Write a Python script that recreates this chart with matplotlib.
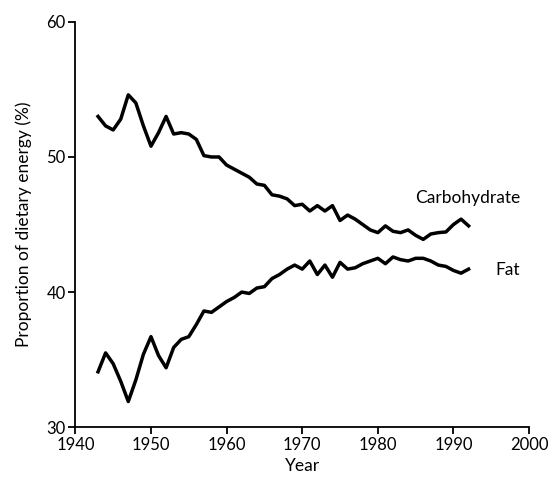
import matplotlib
matplotlib.use("Agg")
import matplotlib.pyplot as plt

years = list(range(1943, 1993))
carbohydrate = [53.0, 52.3, 52.0, 52.8, 54.6, 54.0, 52.3, 50.8, 51.8, 53.0,
                51.7, 51.8, 51.7, 51.3, 50.1, 50.0, 50.0, 49.4, 49.1, 48.8,
                48.5, 48.0, 47.9, 47.2, 47.1, 46.9, 46.4, 46.5, 46.0, 46.4,
                46.0, 46.4, 45.3, 45.7, 45.4, 45.0, 44.6, 44.4, 44.9, 44.5,
                44.4, 44.6, 44.2, 43.9, 44.3, 44.4, 44.45, 45.0, 45.4, 44.9]
fat = [34.1, 35.5, 34.7, 33.4, 31.9, 33.5, 35.4, 36.7, 35.3, 34.4,
       35.9, 36.5, 36.7, 37.6, 38.6, 38.5, 38.9, 39.3, 39.6, 40.0,
       39.9, 40.3, 40.4, 41.0, 41.3, 41.7, 42.0, 41.7, 42.3, 41.3,
       42.0, 41.1, 42.2, 41.7, 41.8, 42.1, 42.3, 42.5, 42.1, 42.6,
       42.4, 42.3, 42.5, 42.5, 42.3, 42.0, 41.9, 41.6, 41.4, 41.7]
xticks = [1940, 1950, 1960, 1970, 1980, 1990, 2000]
yticks = [30, 40, 50, 60]

plt.rcParams['font.family'] = ['Lato', 'DejaVu Sans']

fig = plt.figure(figsize=(5.5, 4.86), dpi=100)
ax = fig.add_axes([0.137, 0.121, 0.825, 0.834])
ax.plot(years, carbohydrate, color='black', lw=2.5, solid_joinstyle='round')
ax.plot(years, fat, color='black', lw=2.5, solid_joinstyle='round')
ax.text(1998.8, 47.0, 'Carbohydrate', ha='right', va='center', fontsize=12.5)
ax.text(1998.8, 41.6, 'Fat', ha='right', va='center', fontsize=12.5)

ax.set_xlim(1940, 2000)
ax.set_ylim(30, 60)
ax.set_xticks(xticks)
ax.set_yticks(yticks)
for s in ['top', 'right']:
    ax.spines[s].set_visible(False)
for s in ['left', 'bottom']:
    ax.spines[s].set_linewidth(1.3)
ax.tick_params(direction='out', length=5, width=1.3, labelsize=12, pad=2)
ax.set_xlabel('Year', fontsize=12.5, labelpad=4)
ax.set_ylabel('Proportion of dietary energy (%)', fontsize=12.5, labelpad=10)
fig.savefig('out.png', dpi=100)
